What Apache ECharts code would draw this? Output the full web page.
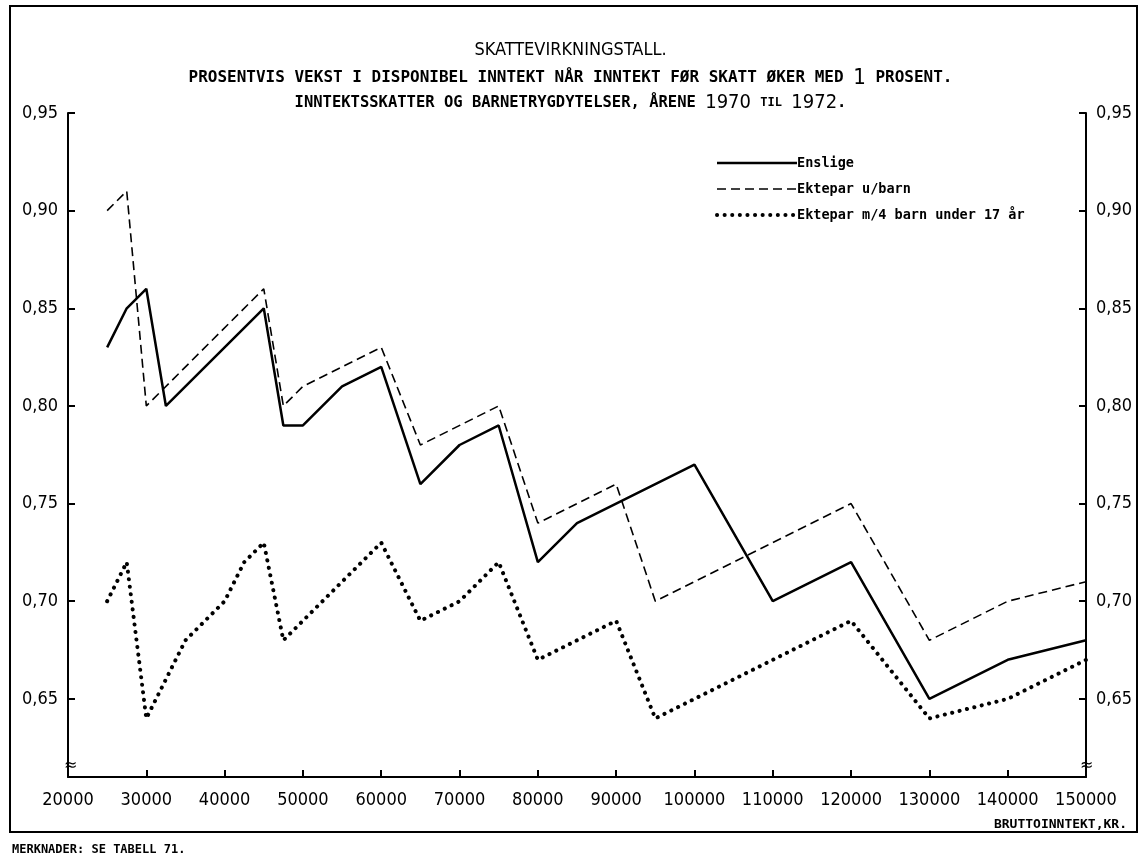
<!DOCTYPE html>
<html><head><meta charset="utf-8">
<script src="https://cdn.jsdelivr.net/npm/echarts@6/dist/echarts.min.js"></script>
<style>html,body{margin:0;padding:0;background:#fff}#c{width:1141px;height:859px}</style>
</head><body><div id="c"></div>
<script>
// Data
var xEnslige = [25000,27500,30000,32500,45000,47500,50000,55000,60000,65000,70000,75000,80000,85000,100000,110000,120000,130000,140000,150000];
var yEnslige = [0.83,0.85,0.86,0.80,0.85,0.79,0.79,0.81,0.82,0.76,0.78,0.79,0.72,0.74,0.77,0.70,0.72,0.65,0.67,0.68];
var xUbarn = [25000,27500,30000,45000,47500,50000,60000,65000,75000,80000,90000,95000,120000,130000,140000,150000];
var yUbarn = [0.90,0.91,0.80,0.86,0.80,0.81,0.83,0.78,0.80,0.74,0.76,0.70,0.75,0.68,0.70,0.71];
var xM4barn = [25000,27500,30000,35000,40000,42500,45000,47500,60000,65000,70000,75000,80000,90000,95000,120000,130000,140000,150000];
var yM4barn = [0.70,0.72,0.64,0.68,0.70,0.72,0.73,0.68,0.73,0.69,0.70,0.72,0.67,0.69,0.64,0.69,0.64,0.65,0.67];
var seriesNames = ['Enslige','Ektepar u/barn','Ektepar m/4 barn under 17 år'];
var xTicks = {min:20000, max:150000, step:10000};
var yRange = {min:0.61, max:0.95};

function pairs(xs, ys){ return xs.map(function(x,i){return [x, ys[i]];}); }

var chart = echarts.init(document.getElementById('c'), null, {renderer:'canvas'});
var font = 'DejaVu Sans Condensed';
var yLabel = {
  fontFamily: font, fontSize: 18, color:'#000', margin: 10,
  formatter: function(v){ var r=Math.round(v*100); if (r%5!==0) return ''; return (r/100).toFixed(2).replace('.',','); }
};
var yAxisCommon = {
  type:'value', min:yRange.min, max:yRange.max, splitNumber:7,
  axisLine:{show:true, lineStyle:{color:'#000', width:2}},
  axisTick:{show:true, inside:true, length:7, lineStyle:{color:'#000', width:2}},
  splitLine:{show:false},
  axisLabel: yLabel
};
var lineStyles = [
  {color:'#000', width:2.5},
  {color:'#000', width:1.6, type:[9,5]},
  {color:'#000', width:4, type:[0.1,7.5], cap:'round'}
];
chart.setOption({
  animation:false,
  backgroundColor:'#fff',
  grid:{left:68, right:55, top:113, bottom:82},
  xAxis:{
    type:'value', min:xTicks.min, max:xTicks.max, interval:xTicks.step,
    axisLine:{lineStyle:{color:'#000', width:2}},
    axisTick:{inside:true, length:7, lineStyle:{color:'#000', width:2}},
    splitLine:{show:false},
    axisLabel:{fontFamily:font, fontSize:18, color:'#000', margin:14, formatter:function(v){return String(v);}}
  },
  yAxis:[
    Object.assign({}, yAxisCommon, {position:'left'}),
    Object.assign({}, yAxisCommon, {position:'right'})
  ],
  legend:{
    orient:'vertical', left:710, top:151, itemWidth:80, itemHeight:12, itemGap:12,
    itemStyle:{color:'rgba(0,0,0,0)', borderWidth:0, opacity:0},
    textStyle:{fontFamily:'DejaVu Sans Mono', fontWeight:'bold', fontSize:13.5, color:'#000', padding:[0,0,0,-5]},
    data: seriesNames.map(function(n,i){ return {name:n, lineStyle:lineStyles[i]}; })
  },
  title:[
    {text:'SKATTEVIRKNINGSTALL.', left:'center', top:36, textStyle:{fontFamily:font, fontWeight:'normal', fontSize:18, color:'#000'}},
    {text:'PROSENTVIS VEKST I DISPONIBEL INNTEKT NÅR INNTEKT FØR SKATT ØKER MED {b|1} PROSENT.', left:'center', top:62,
      textStyle:{fontFamily:'DejaVu Sans Mono', fontWeight:'bold', fontSize:16, color:'#000',
        rich:{b:{fontFamily:font, fontSize:22, fontWeight:'normal'}}}},
    {text:'INNTEKTSSKATTER OG BARNETRYGDYTELSER, ÅRENE {b|1970} {s|TIL} {b|1972}.', left:'center', top:88,
      textStyle:{fontFamily:'DejaVu Sans Mono', fontWeight:'bold', fontSize:15.5, color:'#000',
        rich:{b:{fontFamily:font, fontSize:20, fontWeight:'normal'}, s:{fontFamily:'DejaVu Sans Mono', fontWeight:'bold', fontSize:12}}}}
  ],
  graphic:[
    {type:'rect', shape:{x:10, y:6, width:1127, height:826}, style:{fill:'none', stroke:'#000', lineWidth:2}, silent:true},
    {type:'text', right:14, top:818, style:{text:'BRUTTOINNTEKT,KR.', font:'bold 13px "DejaVu Sans Mono"', fill:'#000'}},
    {type:'text', left:12, top:844, style:{text:'MERKNADER: SE TABELL 71.', font:'bold 12px "DejaVu Sans Mono"', fill:'#000'}},
    {type:'text', left:64, top:758, style:{text:'≈', font:'16px "DejaVu Sans"', fill:'#000'}},
    {type:'text', left:1080, top:758, style:{text:'≈', font:'16px "DejaVu Sans"', fill:'#000'}}
  ],
  series:[
    {name:seriesNames[0], type:'line', data:pairs(xEnslige,yEnslige), symbol:'none', lineStyle:lineStyles[0], itemStyle:{color:'#000'}},
    {name:seriesNames[1], type:'line', data:pairs(xUbarn,yUbarn), symbol:'none', lineStyle:lineStyles[1], itemStyle:{color:'#000'}},
    {name:seriesNames[2], type:'line', data:pairs(xM4barn,yM4barn), symbol:'none', lineStyle:lineStyles[2], itemStyle:{color:'#000'}}
  ]
});
</script></body></html>
